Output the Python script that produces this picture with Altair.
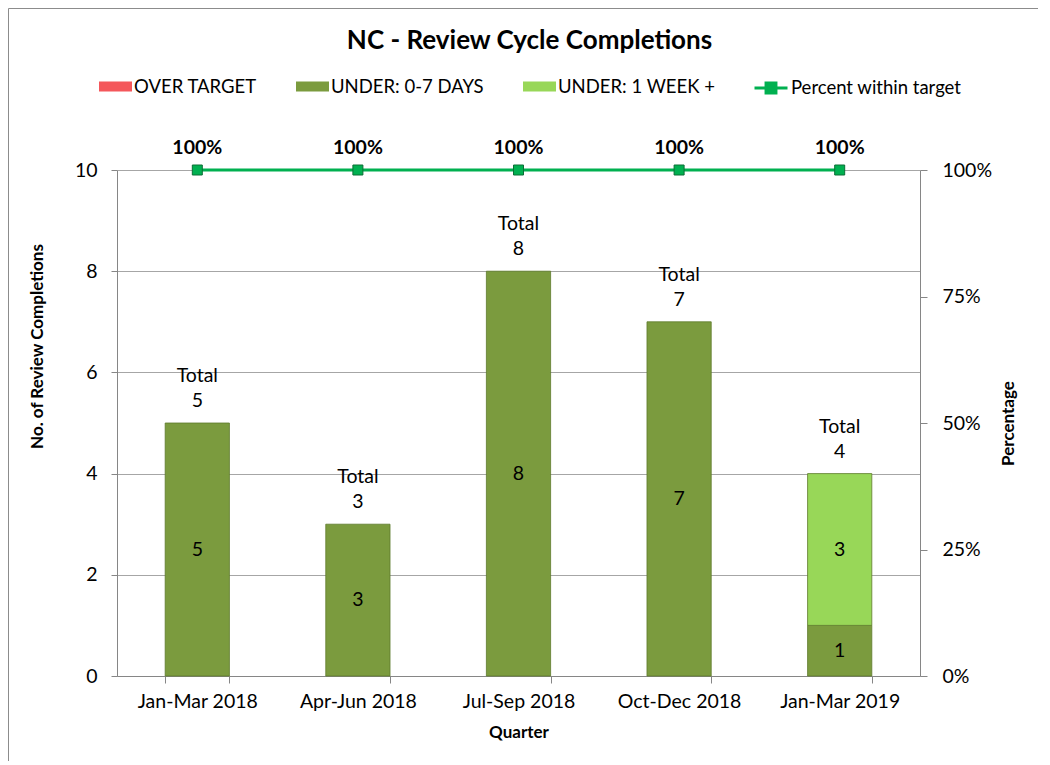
import altair as alt
import pandas as pd

# ---------------- data ----------------
quarters = ["Jan-Mar 2018", "Apr-Jun 2018", "Jul-Sep 2018", "Oct-Dec 2018", "Jan-Mar 2019"]
over_target = [0, 0, 0, 0, 0]
under_0_7 = [5, 3, 8, 7, 1]
under_1wk = [0, 0, 0, 0, 3]
pct_within = [100, 100, 100, 100, 100]

categories = ["OVER TARGET", "UNDER: 0-7 DAYS", "UNDER: 1 WEEK +"]
cat_colors = ["#F4575B", "#7B9B3E", "#98D758"]
stack_order = [2, 0, 1]
line_name = "Percent within target"
pct_ticks = [0, 25, 50, 75, 100]
count_ticks = [0, 2, 4, 6, 8, 10]

FONT = "Lato"
FS = 19.5
LFS = 18.5

rows = []
for i, q in enumerate(quarters):
    for j, vals in enumerate([over_target, under_0_7, under_1wk]):
        rows.append({"quarter": q, "category": categories[j], "value": vals[i], "order": stack_order[j]})
bars_df = pd.DataFrame(rows)

totals_df = pd.DataFrame({
    "quarter": quarters,
    "total": [a + b + c for a, b, c in zip(over_target, under_0_7, under_1wk)],
})
line_df = pd.DataFrame({"quarter": quarters, "pct": pct_within, "series": [line_name] * len(quarters)})

# ---------------- shared encodings ----------------
x_enc = alt.X(
    "quarter:N", sort=quarters,
    scale=alt.Scale(paddingInner=0.6, paddingOuter=0.3),
    axis=alt.Axis(title="Quarter", labelAngle=0, tickBand="extent", tickSize=7,
                  labelPadding=9, titleY=56, titleBaseline="middle", grid=False),
)
left_scale = alt.Scale(domain=[0, 10], nice=False)
left_axis = alt.Axis(title="No. of Review Completions", values=count_ticks, grid=True,
                     gridColor="#A6A6A6", tickSize=6, labelPadding=14,
                     titleAngle=270, titleX=-80, titleY=176, titleAlign="center",
                     titleBaseline="middle")

bars = alt.Chart(bars_df).transform_filter("datum.value > 0").mark_bar(
    stroke="#5E7A2C", strokeWidth=0.8
).encode(
    x=x_enc,
    y=alt.Y("value:Q", stack="zero", scale=left_scale, axis=left_axis),
    color=alt.Color(
        "category:N",
        scale=alt.Scale(domain=categories, range=cat_colors),
        legend=alt.Legend(title=None, orient="none", legendX=-18, legendY=-100,
                          direction="horizontal", symbolType="M-1,-0.3H1V0.3H-1Z",
                          symbolSize=1089, symbolStrokeWidth=0, columnPadding=39,
                          labelOffset=2, labelLimit=0),
    ),
    order=alt.Order("order:Q"),
)

seg_text = alt.Chart(bars_df).transform_filter("datum.value > 0").transform_stack(
    stack="value", groupby=["quarter"], as_=["v0", "v1"], sort=[alt.SortField("order")]
).transform_calculate(mid="(datum.v0 + datum.v1) / 2").mark_text(
    font=FONT, fontSize=FS, color="black"
).encode(
    x=x_enc,
    y=alt.Y("mid:Q", scale=left_scale, axis=left_axis),
    text=alt.Text("value:Q"),
)

total_text = alt.Chart(totals_df).transform_calculate(
    lbl="['Total', '' + datum.total]"
).mark_text(font=FONT, fontSize=FS, color="black", baseline="middle", lineHeight=25, dy=-47).encode(
    x=x_enc,
    y=alt.Y("total:Q", scale=left_scale, axis=left_axis),
    text="lbl:N",
)

left_layer = alt.layer(bars, seg_text, total_text)

right_scale = alt.Scale(domain=[0, 100], nice=False)
right_axis = alt.Axis(orient="right", title="Percentage", values=pct_ticks,
                      labelExpr="datum.value + '%'", grid=False, tickSize=7, labelPadding=15,
                      titleAngle=270, titleX=88, titleY=253, titleAlign="center",
                      titleBaseline="middle")

line_color = alt.Color(
    "series:N", scale=alt.Scale(domain=[line_name], range=["#00B050"]),
    legend=alt.Legend(title=None, orient="none", legendX=636, legendY=-100,
                      symbolType="M-1,0H1M-0.3,-0.3H0.3V0.3H-0.3Z", symbolSize=1089,
                      symbolStrokeWidth=3, symbolFillColor="#00B050",
                      symbolStrokeColor="#00B050", labelOffset=2, labelLimit=0),
)

line = alt.Chart(line_df).mark_line(strokeWidth=3).encode(
    x=x_enc,
    y=alt.Y("pct:Q", scale=right_scale, axis=right_axis),
    color=line_color,
)
points = alt.Chart(line_df).mark_point(
    shape="square", size=100, filled=True, opacity=1, stroke="#0A6E35", strokeWidth=1
).encode(
    x=x_enc,
    y=alt.Y("pct:Q", scale=right_scale, axis=right_axis),
    color=line_color,
)
pct_text = alt.Chart(line_df).transform_calculate(lbl="datum.pct + '%'").mark_text(
    font=FONT, fontSize=FS, fontWeight="bold", color="black", dy=-22
).encode(
    x=x_enc,
    y=alt.Y("pct:Q", scale=right_scale, axis=right_axis),
    text="lbl:N",
)

right_layer = alt.layer(line, points, pct_text)

frame_df = pd.DataFrame({"k": [0]})
frame_left = alt.Chart(frame_df).mark_rule(color="#8C8C8C", strokeWidth=1).encode(
    x=alt.value(-108.5), y=alt.value(-161.5), y2=alt.value(600)
)
frame_top = alt.Chart(frame_df).mark_rule(color="#8C8C8C", strokeWidth=1).encode(
    x=alt.value(-108.5), x2=alt.value(930), y=alt.value(-161.5)
)

chart = alt.layer(left_layer, right_layer, frame_left, frame_top).resolve_scale(
    y="independent", color="independent"
).properties(
    width=803, height=506,
    padding={"left": 109, "top": 162, "right": 118, "bottom": 85},
    autosize=alt.AutoSizeParams(type="none"),
    title=alt.TitleParams("NC - Review Cycle Completions", font=FONT, fontSize=26,
                          fontWeight="bold", color="black", anchor="middle", dx=11,
                          dy=50),
).configure_view(stroke=None).configure_axis(
    domainColor="#868686", tickColor="#868686", labelFont=FONT, labelFontSize=FS,
    labelColor="black", titleFont=FONT, titleFontSize=17, titleFontWeight="bold",
    titleColor="black",
).configure_legend(
    labelFont=FONT, labelFontSize=LFS, labelColor="black",
)

chart.save("out.html", embed_options={"renderer": "svg", "actions": False})
